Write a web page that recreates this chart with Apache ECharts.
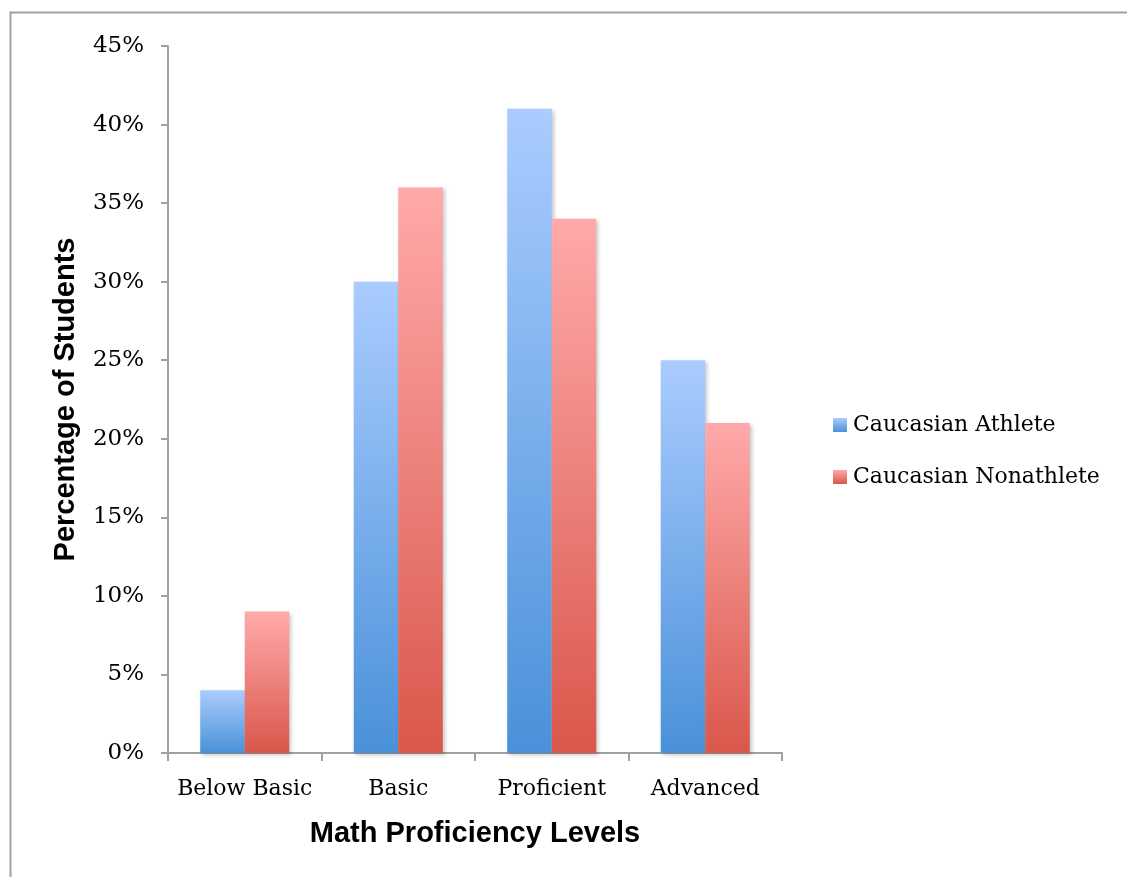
<!DOCTYPE html>
<html>
<head>
<meta charset="utf-8">
<script src="https://cdn.jsdelivr.net/npm/echarts@6/dist/echarts.min.js"></script>
<style>html,body{margin:0;padding:0;background:#fff;}#c{width:1127px;height:877px;}</style>
</head>
<body>
<div id="c"></div>
<script>
const categories = ['Below Basic', 'Basic', 'Proficient', 'Advanced'];
const athlete = [4, 30, 41, 25];
const nonathlete = [9, 36, 34, 21];
const seriesNames = ['Caucasian Athlete', 'Caucasian Nonathlete'];

const chart = echarts.init(document.getElementById('c'));
function grad(top, bottom) {
  return new echarts.graphic.LinearGradient(0, 0, 0, 1, [
    { offset: 0, color: top }, { offset: 1, color: bottom }
  ]);
}
const shadow = { shadowColor: 'rgba(0,0,0,0.22)', shadowBlur: 4, shadowOffsetX: 2, shadowOffsetY: 2 };
const serifFont = 'DejaVu Serif';
chart.setOption({
  animation: false,
  backgroundColor: '#fff',
  graphic: [{
    type: 'rect', left: 8, top: 10, shape: { width: 1300, height: 1000 },
    style: { fill: 'none', stroke: '#a0a0a0', lineWidth: 2 }, silent: true
  }],
  grid: { left: 168, right: 345, top: 46, bottom: 124 },
  legend: {
    orient: 'vertical', left: 833, top: 414, padding: 0,
    itemWidth: 14, itemHeight: 14, itemGap: 30, icon: 'rect',
    textStyle: { fontFamily: serifFont, fontSize: 22, color: '#000', padding: [0, 0, 0, 1] },
    data: seriesNames
  },
  xAxis: {
    type: 'category', data: categories,
    name: 'Math Proficiency Levels', nameLocation: 'middle', nameGap: 66,
    nameTextStyle: { fontFamily: 'Liberation Sans', fontWeight: 'bold', fontSize: 29, color: '#000' },
    axisLine: { lineStyle: { color: '#a0a0a0', width: 2 } },
    axisTick: { show: true, length: 8, lineStyle: { color: '#a0a0a0', width: 2 } },
    axisLabel: { interval: 0, fontFamily: serifFont, fontSize: 22, color: '#000', margin: 25 }
  },
  yAxis: {
    type: 'value', min: 0, max: 45, interval: 5,
    name: 'Percentage of Students', nameLocation: 'middle', nameGap: 88, nameRotate: 90,
    nameTextStyle: { fontFamily: 'Liberation Sans', fontWeight: 'bold', fontSize: 29, color: '#000' },
    axisLine: { show: true, lineStyle: { color: '#a0a0a0', width: 2 } },
    axisTick: { show: true, length: 7, lineStyle: { color: '#a0a0a0', width: 2 } },
    splitLine: { show: false },
    axisLabel: { fontFamily: serifFont, fontSize: 23, color: '#000', margin: 24, formatter: '{value}%' }
  },
  series: [
    { name: seriesNames[0], type: 'bar', data: athlete, barGap: '0%', barCategoryGap: '42%',
      itemStyle: Object.assign({ color: grad('#aaccff', '#4a91d9') }, shadow) },
    { name: seriesNames[1], type: 'bar', data: nonathlete, barGap: '0%', barCategoryGap: '42%',
      itemStyle: Object.assign({ color: grad('#ffaaaa', '#d9574b') }, shadow) }
  ]
});
</script>
</body>
</html>
